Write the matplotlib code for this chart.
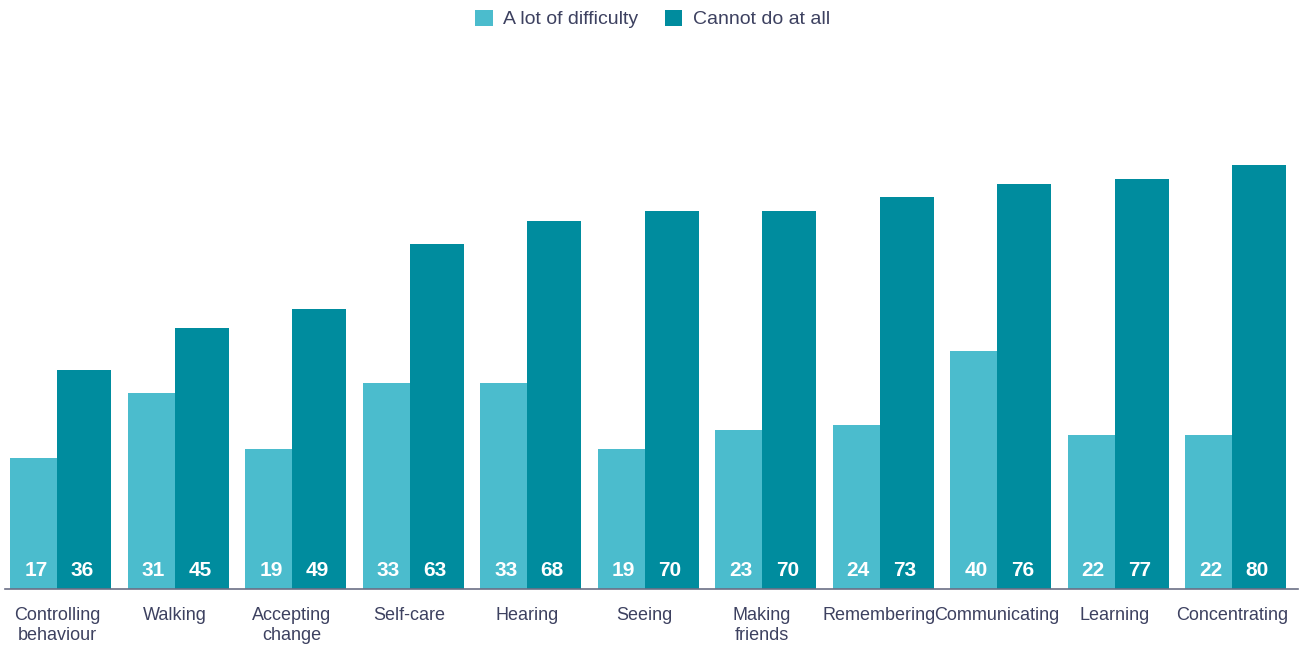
import matplotlib.pyplot as plt
import numpy as np

categories = ["Controlling\nbehaviour", "Walking", "Accepting\nchange", "Self-care",
              "Hearing", "Seeing", "Making\nfriends", "Remembering",
              "Communicating", "Learning", "Concentrating"]
lot_of_difficulty = [17, 31, 19, 33, 33, 19, 23, 24, 40, 22, 22]
cannot_do = [36, 45, 49, 63, 68, 70, 70, 73, 76, 77, 80]
series_names = ["A lot of difficulty", "Cannot do at all"]

light = "#4bbccd"
dark = "#008c9e"
text_col = "#3d4160"
base = -11.2   # bars start below zero to leave room for the value labels

plt.rcParams['font.family'] = ['Liberation Sans', 'DejaVu Sans']

fig = plt.figure(figsize=(13.05, 6.5), dpi=100)
ax = fig.add_axes([5 / 1305, 61 / 650, 1293 / 1305, 449 / 650])

x = np.arange(len(categories))
w1, w2 = 0.40, 0.46
b1 = ax.bar(x, np.array(lot_of_difficulty) - base, -w1, bottom=base, align='edge',
            color=light, label=series_names[0])
b2 = ax.bar(x, np.array(cannot_do) - base, w2, bottom=base, align='edge',
            color=dark, label=series_names[1])

for xi, v1, v2 in zip(x, lot_of_difficulty, cannot_do):
    ax.text(xi - 0.18, -7.3, str(v1), ha='center', va='center', color='white',
            fontsize=15, fontweight='bold')
    ax.text(xi + 0.215, -7.3, str(v2), ha='center', va='center', color='white',
            fontsize=15, fontweight='bold')

ax.set_xlim(-52 / 117.5, (1293 - 52) / 117.5)
ax.set_ylim(base, base + 449 / 4.65)
ax.set_xticks(x)
ax.set_xticklabels(categories, fontsize=13, color=text_col, linespacing=1.2)
ax.tick_params(axis='x', length=0, pad=13)
ax.set_yticks([])
for s in ['top', 'right', 'left']:
    ax.spines[s].set_visible(False)
ax.spines['bottom'].set_color('#6b6f85')
ax.spines['bottom'].set_linewidth(1.2)

fig.legend(handles=[b1, b2], loc='upper center', bbox_to_anchor=(0.5, 1.012),
           ncol=2, frameon=False, fontsize=14, handlelength=0.9, handleheight=0.9,
           handletextpad=0.55, columnspacing=1.35, labelcolor=text_col)

fig.savefig("out.png", dpi=100)
